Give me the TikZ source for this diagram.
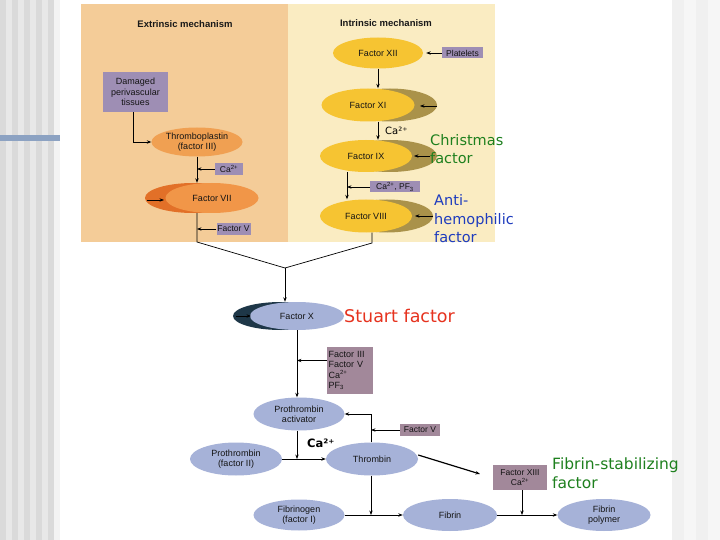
\documentclass[tikz,border=0pt]{standalone}
\usepackage{fontspec}
\setmainfont{Liberation Sans}
\newfontfamily\comic{DejaVu Sans}
\usetikzlibrary{arrows.meta,shapes.geometric,calc}
\definecolor{extbg}{RGB}{244,204,152}
\definecolor{intbg}{RGB}{250,236,194}
\definecolor{orng}{RGB}{240,160,82}
\definecolor{fsevd}{RGB}{226,112,40}
\definecolor{fsevl}{RGB}{241,150,72}
\definecolor{yell}{RGB}{246,196,50}
\definecolor{brwn}{RGB}{170,146,74}
\definecolor{lav}{RGB}{158,142,180}
\definecolor{mauve}{RGB}{162,136,154}
\definecolor{bluel}{RGB}{166,178,216}
\definecolor{fxd}{RGB}{30,55,72}
\definecolor{stripd}{RGB}{218,218,218}
\definecolor{stripl}{RGB}{232,232,232}
\definecolor{stripx}{RGB}{243,243,243}
\definecolor{barblue}{RGB}{140,162,194}
\definecolor{rstrip}{RGB}{240,240,240}
\definecolor{gnote}{RGB}{30,128,30}
\definecolor{bnote}{RGB}{30,60,190}
\definecolor{rnote}{RGB}{230,50,30}
\begin{document}
\begin{tikzpicture}[x=1pt,y=-1pt,
  lbl/.style={font=\fontsize{9}{10}\selectfont, text=black!92, align=center},
  ell/.style={ellipse, inner sep=0pt, lbl},
  boxn/.style={rectangle, inner sep=0pt, lbl, font=\fontsize{8.5}{9.5}\selectfont},
  ttl/.style={font=\bfseries\fontsize{9.5}{11}\selectfont, text=black!90},
  arr/.style={-{Stealth[length=4.5pt,width=3.4pt]}, line width=0.7pt},
  ln/.style={line width=0.7pt},
  note/.style={anchor=west, align=left, inner sep=0pt},
]
\useasboundingbox (0,0) rectangle (720,540);
\fill[white] (0,0) rectangle (720,540);
% slide decoration
\fill[stripl] (0,0) rectangle (54,540);
\foreach \s in {0,12,24,36,48} \fill[stripd] (\s,0) rectangle (\s+6,540);
\fill[stripx] (54,0) rectangle (60,540);
\fill[barblue] (0,135) rectangle (60,141);
\fill[rstrip] (672,0) rectangle (684,540);
\fill[rstrip!60!white] (684,0) rectangle (696,540);
\fill[rstrip] (696,0) rectangle (708,540);
\fill[rstrip!60!white] (708,0) rectangle (720,540);
% panels
\fill[extbg] (81,4) rectangle (288,242);
\fill[intbg] (288,4) rectangle (495,242);
\node[ttl] (ttlext) at (185,24) {Extrinsic mechanism};
\node[ttl] (ttlint) at (386,23) {Intrinsic mechanism};

% ---- extrinsic
\node[boxn, fill=lav, minimum width=65pt, minimum height=40pt, font=\fontsize{9}{10.5}\selectfont] (dmg) at (135.5,92) {Damaged\\perivascular\\tissues};
\node[ell, fill=orng, minimum width=91pt, minimum height=29pt] (thr) at (197,142) {Thromboplastin\\(factor III)};
\node[boxn, fill=lav, minimum width=28pt, minimum height=12pt] (ca1) at (229,169) {Ca\textsuperscript{2+}};
\fill[fsevd] (193,198) ellipse [x radius=48, y radius=15];
\node[ell, fill=fsevl, minimum width=93pt, minimum height=30pt] (f7) at (212,198) {Factor VII};
\node[boxn, fill=lav, minimum width=34pt, minimum height=12pt] (fv1) at (233.5,229) {Factor V};
\coordinate (a7s) at (147,200);
\coordinate (a7e) at (164,200);
\draw[arr] (a7s) -- (a7e);

\draw[arr] ([xshift=-2.5pt]dmg.south) |- (thr.west);
\draw[arr] (thr.south) -- (thr.south |- f7.north);
\draw[arr] (ca1.west) -- (ca1.west -| thr.south);

% ---- intrinsic
\node[ell, fill=yell, minimum width=90pt, minimum height=31pt] (f12) at (378,53) {Factor XII};
\node[boxn, fill=lav, minimum width=41pt, minimum height=11pt] (plt) at (462.5,53) {Platelets};
\fill[brwn] (390,105) ellipse [x radius=47, y radius=16.5];
\node[ell, fill=yell, minimum width=93pt, minimum height=33pt] (f11) at (368,105) {Factor XI};
\fill[brwn] (390,156) ellipse [x radius=47, y radius=16];
\node[ell, fill=yell, minimum width=92pt, minimum height=32pt] (f9) at (366,156) {Factor IX};
\node[boxn, fill=lav, minimum width=50pt, minimum height=11pt] (cap) at (395,187) {Ca\textsuperscript{2+}, PF\textsubscript{3}};
\fill[brwn] (387,216) ellipse [x radius=46, y radius=16.5];
\node[ell, fill=yell, minimum width=92pt, minimum height=33pt] (f8) at (366,216) {Factor VIII};

\draw[arr, shorten >=3pt] (plt.west) -- (f12.east);
\draw[arr] (f12.south) -- (f12.south |- f11.north);
\draw[arr] (f11.south -| f12.south) -- (f12.south |- f9.north);
\node[note, font=\comic\fontsize{10}{12}\selectfont] (ca2) at (385,131) {Ca²⁺};
\coordinate (v98) at (347,0);
\draw[arr] (f9.south -| v98) -- (v98 |- f8.north);
\draw[arr] (cap.west) -- (cap.west -| v98);
\coordinate (a11s) at (437,106);
\coordinate (a11e) at (420,106);
\draw[arr] (a11s) -- (a11e);
\coordinate (a9s) at (430,156);
\coordinate (a9e) at (414,156);
\draw[arr] (a9s) -- (a9e);
\coordinate (a8s) at (433,216);
\coordinate (a8e) at (415,216);
\draw[arr] (a8s) -- (a8e);

\node[note, text=gnote, font=\comic\fontsize{14.5}{18}\selectfont] (xmas) at (430,149) {Christmas\\factor};
\node[note, text=bnote, font=\comic\fontsize{14.5}{18.5}\selectfont] (antih) at (434,219) {Anti-\\hemophilic\\factor};

% ---- junction
\coordinate (jl) at (197,242);
\coordinate (jr) at (372,243);
\coordinate (jm) at (285,268);
\draw[ln] (f7.south -| jl) -- (jl) -- (jm);
\draw[ln] (f8.south -| jr) -- (jr) -- (jm);
\draw[arr] (fv1.west) -- (fv1.west -| jl);

% ---- factor X
\fill[fxd] (281,316) ellipse [x radius=48, y radius=14];
\node[ell, fill=bluel, minimum width=94pt, minimum height=28pt] (fx) at (297,316) {Factor X};
\coordinate (axs) at (236,316);
\coordinate (axe) at (251,316);
\draw[arr] (axs) -- (axe);
\draw[arr] (jm) -- (jm |- fx.north);
\node[note, text=rnote, font=\comic\fontsize{17.5}{20}\selectfont] (stuart) at (344,316) {Stuart factor};

\node[boxn, fill=mauve, minimum width=46pt, minimum height=47pt, align=left, text width=43pt, font=\fontsize{9}{10.5}\selectfont] (b3) at (350,370.5) {Factor III\\Factor V\\Ca\textsuperscript{2+}\\PF\textsubscript{3}};

% ---- common pathway
\node[ell, fill=bluel, minimum width=91pt, minimum height=33pt] (act) at (299,414) {Prothrombin\\activator};
\node[ell, fill=bluel, minimum width=92pt, minimum height=33pt] (p2) at (236,459) {Prothrombin\\(factor II)};
\node[ell, fill=bluel, minimum width=92pt, minimum height=33pt] (thb) at (372,459) {Thrombin};
\node[boxn, fill=mauve, minimum width=40pt, minimum height=12pt] (fv2) at (420,430) {Factor V};
\node[ell, fill=bluel, minimum width=91pt, minimum height=31pt] (fbg) at (299,515) {Fibrinogen\\(factor I)};
\node[ell, fill=bluel, minimum width=94pt, minimum height=32pt] (fib) at (450,515) {Fibrin};
\node[ell, fill=bluel, minimum width=93pt, minimum height=32pt] (poly) at (604,515) {Fibrin\\polymer};
\node[boxn, fill=mauve, minimum width=54pt, minimum height=25pt] (b13) at (520,477.5) {Factor XIII\\Ca\textsuperscript{2+}};
\node[note, font=\comic\bfseries\fontsize{11.5}{13}\selectfont] (ca3) at (307,443) {Ca²⁺};
\node[note, text=gnote, font=\comic\fontsize{15.5}{19}\selectfont] (fsf) at (552,473) {Fibrin-stabilizing\\factor};

\coordinate (tv) at ([xshift=-1pt]thb.north);
\coordinate (tvb) at ([xshift=-1pt]thb.south);
\coordinate (b3a) at ([yshift=10pt]b3.west);
\coordinate (b13s) at ([xshift=2pt]b13.south);
\draw[arr] (fx.south) -- (fx.south |- act.north);
\draw[arr] (b3a) -- (b3a -| fx.south);
\draw[arr] (act.south -| fx.south) -- (fx.south |- p2.east);
\draw[arr] (p2.east) -- (thb.west);
\draw[arr] (tv) |- (act.east);
\draw[arr] (fv2.west) -- (fv2.west -| tv);
\draw[arr] (tvb) -- (tvb |- fbg.east);
\draw[arr] (fbg.east) -- (fib.west);
\coordinate (diagend) at (480,474);
\draw[arr, line width=1.2pt] ([yshift=4pt]thb.east) -- (diagend);
\draw[arr] (b13s) -- (b13s |- fib.east);
\draw[arr] (fib.east) -- (poly.west);
\end{tikzpicture}
\end{document}
